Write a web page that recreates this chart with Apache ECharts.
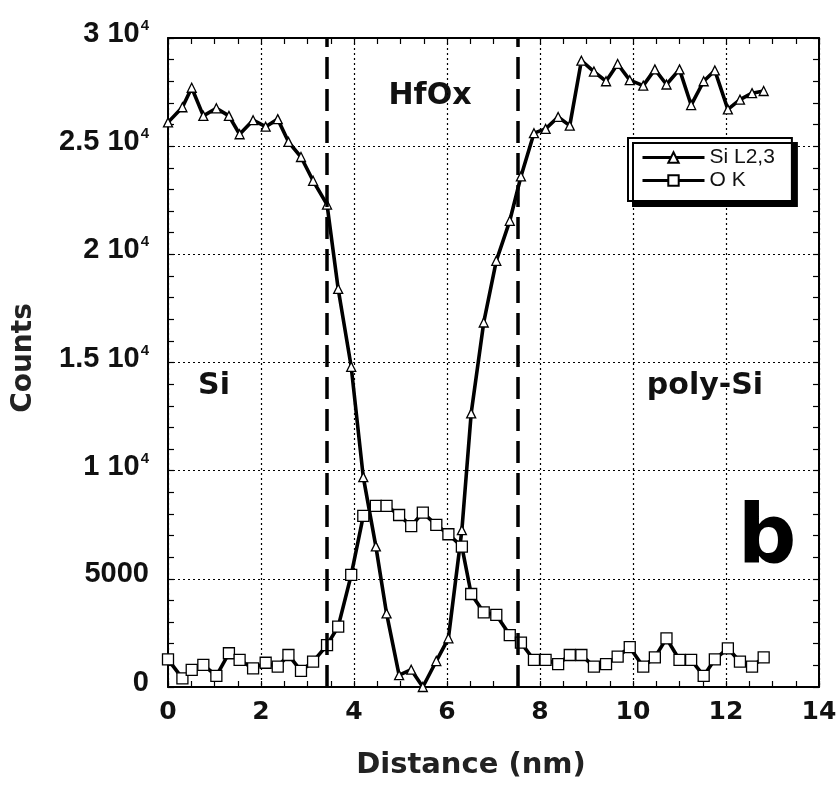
<!DOCTYPE html>
<html>
<head>
<meta charset="utf-8">
<script src="https://cdn.jsdelivr.net/npm/echarts@6/dist/echarts.min.js"></script>
<style>
html, body {margin: 0; padding: 0; background: #fff;}
#main {width: 840px; height: 791px;}
</style>
</head>
<body>
<div id="main"></div>
<script>
let distance = [0, 0.31, 0.51, 0.76, 1.04, 1.31, 1.54, 1.83, 2.10, 2.36,
    2.59, 2.86, 3.12, 3.42, 3.66, 3.94, 4.20, 4.47, 4.70, 4.97,
    5.23, 5.48, 5.77, 6.03, 6.32, 6.52, 6.79, 7.06, 7.35, 7.59,
    7.87, 8.12, 8.39, 8.64, 8.89, 9.16, 9.42, 9.67, 9.93, 10.22,
    10.47, 10.72, 11.00, 11.25, 11.52, 11.76, 12.04, 12.30, 12.56, 12.81];

let siL23 = [26100, 26800, 27700, 26400, 26750, 26400, 25550, 26200, 25900, 26250,
    25200, 24500, 23400, 22300, 18400, 14800, 9700, 6500, 3400, 550,
    800, 0, 1200, 2250, 7250, 12650, 16850, 19700, 21550, 23600,
    25600, 25800, 26350, 25950, 28950, 28450, 28000, 28800, 28050, 27800,
    28550, 27850, 28550, 26900, 28000, 28500, 26700, 27150, 27450, 27550];

let oK = [1280, 400, 790, 1020, 510, 1560, 1250, 860, 1120, 940,
    1480, 750, 1170, 1940, 2790, 5180, 7910, 8370, 8370, 7950,
    7440, 8060, 7490, 7060, 6490, 4300, 3450, 3330, 2400, 2050,
    1250, 1250, 1060, 1480, 1480, 940, 1060, 1400, 1840, 940,
    1370, 2250, 1250, 1250, 510, 1280, 1790, 1170, 940, 1370];

let interfaces = [3.41, 7.52];

let font = "'Liberation Sans', Arial, sans-serif";
let wide = "'DejaVu Sans', sans-serif";

let chart = echarts.init(document.getElementById('main'), null, {renderer: 'canvas'});

let yLabel = (value) => {
    if (value === 0 || value === 5000) return '{a|' + value + '}';
    return '{a|' + (value / 10000) + ' 10}{s|4}';
};

let tickStyle = {color: '#000', width: 1.2};

let option = {
    animation: false,
    backgroundColor: '#fff',
    grid: {left: 168, right: 21, top: 38, bottom: 104},
    xAxis: [{
        type: 'value',
        min: 0,
        max: 14,
        interval: 2,
        position: 'bottom',
        axisLine: {show: true, onZero: false, lineStyle: {color: '#000', width: 2}},
        axisTick: {show: true, inside: true, length: 6, lineStyle: tickStyle},
        minorTick: {show: true, splitNumber: 4, length: 6, lineStyle: tickStyle},
        axisLabel: {fontFamily: wide, fontWeight: 'bold', fontSize: 25, color: '#111', margin: 13},
        splitLine: {show: true, lineStyle: {color: '#000', type: [2, 3], width: 1.2}}
    }, {
        type: 'value',
        min: 0,
        max: 14,
        interval: 2,
        position: 'top',
        axisLine: {show: true, onZero: false, lineStyle: {color: '#000', width: 2}},
        axisTick: {show: true, inside: true, length: 6, lineStyle: tickStyle},
        minorTick: {show: true, splitNumber: 4, length: 6, lineStyle: tickStyle},
        axisLabel: {show: false},
        splitLine: {show: false}
    }],
    yAxis: [{
        type: 'value',
        min: 0,
        max: 30000,
        interval: 5000,
        position: 'left',
        axisLine: {show: true, onZero: false, lineStyle: {color: '#000', width: 2}},
        axisTick: {show: true, inside: true, length: 6, lineStyle: tickStyle},
        minorTick: {show: true, splitNumber: 5, length: 6, lineStyle: tickStyle},
        axisLabel: {
            margin: 19,
            padding: [0, 0, 9, 0],
            formatter: yLabel,
            rich: {
                a: {fontFamily: font, fontWeight: 'bold', fontSize: 29, color: '#111', verticalAlign: 'bottom'},
                s: {fontFamily: font, fontWeight: 'bold', fontSize: 15, color: '#111', verticalAlign: 'bottom', padding: [0, 0, 15, 1]}
            }
        },
        splitLine: {show: true, lineStyle: {color: '#000', type: [2, 3], width: 1.2}}
    }, {
        type: 'value',
        min: 0,
        max: 30000,
        interval: 5000,
        position: 'right',
        axisLine: {show: true, onZero: false, lineStyle: {color: '#000', width: 2}},
        axisTick: {show: true, inside: true, length: 6, lineStyle: tickStyle},
        minorTick: {show: true, splitNumber: 5, length: 6, lineStyle: tickStyle},
        axisLabel: {show: false},
        splitLine: {show: false}
    }],
    legend: {
        orient: 'vertical',
        left: 628,
        top: 138,
        padding: [8, 17, 9, 13],
        itemGap: 0,
        itemWidth: 62,
        itemHeight: 13,
        backgroundColor: '#fff',
        borderColor: '#000',
        borderWidth: 2,
        borderRadius: 0,
        shadowColor: '#000',
        shadowBlur: 0,
        shadowOffsetX: 5,
        shadowOffsetY: 5,
        lineStyle: {width: 3},
        textStyle: {fontFamily: font, fontSize: 21, lineHeight: 23, color: '#111', padding: [0, 0, 0, 0]},
        data: ['Si L2,3', 'O K']
    },
    series: [{
        name: 'Si L2,3',
        type: 'line',
        data: distance.map((d, i) => [d, siL23[i]]),
        symbol: 'triangle',
        symbolSize: 9,
        showAllSymbol: true,
        lineStyle: {color: '#000', width: 3.6},
        itemStyle: {color: '#fff', borderColor: '#000', borderWidth: 1.3},
        z: 3,
        markLine: {
            silent: true,
            symbol: 'none',
            label: {show: false},
            lineStyle: {color: '#000', type: [22, 10], width: 3.5},
            data: interfaces.map(x => ({xAxis: x}))
        }
    }, {
        name: 'O K',
        type: 'line',
        data: distance.map((d, i) => [d, oK[i]]),
        symbol: 'rect',
        symbolSize: 11,
        showAllSymbol: true,
        lineStyle: {color: '#000', width: 3.6},
        itemStyle: {color: '#fff', borderColor: '#000', borderWidth: 1.3},
        z: 3
    }],
    graphic: [
        {type: 'text', x: 430, y: 96, style: {text: 'HfOx', align: 'center', verticalAlign: 'middle', fontFamily: wide, fontWeight: 'bold', fontSize: 30, fill: '#111'}},
        {type: 'text', x: 214, y: 386, style: {text: 'Si', align: 'center', verticalAlign: 'middle', fontFamily: wide, fontWeight: 'bold', fontSize: 30, fill: '#111'}},
        {type: 'text', x: 705, y: 386, style: {text: 'poly-Si', align: 'center', verticalAlign: 'middle', fontFamily: wide, fontWeight: 'bold', fontSize: 30, fill: '#111'}},
        {type: 'text', x: 767, y: 541, style: {text: 'b', align: 'center', verticalAlign: 'middle', fontFamily: wide, fontWeight: 'bold', fontSize: 82, fill: '#000'}},
        {type: 'text', x: 471, y: 765, style: {text: 'Distance (nm)', align: 'center', verticalAlign: 'middle', fontFamily: wide, fontWeight: 'bold', fontSize: 29, fill: '#222'}},
        {type: 'text', x: 24, y: 358, rotation: Math.PI / 2, style: {text: 'Counts', align: 'center', verticalAlign: 'middle', fontFamily: wide, fontWeight: 'bold', fontSize: 28, fill: '#222'}}
    ]
};

chart.setOption(option);
window.addEventListener('resize', chart.resize);
</script>
</body>
</html>
